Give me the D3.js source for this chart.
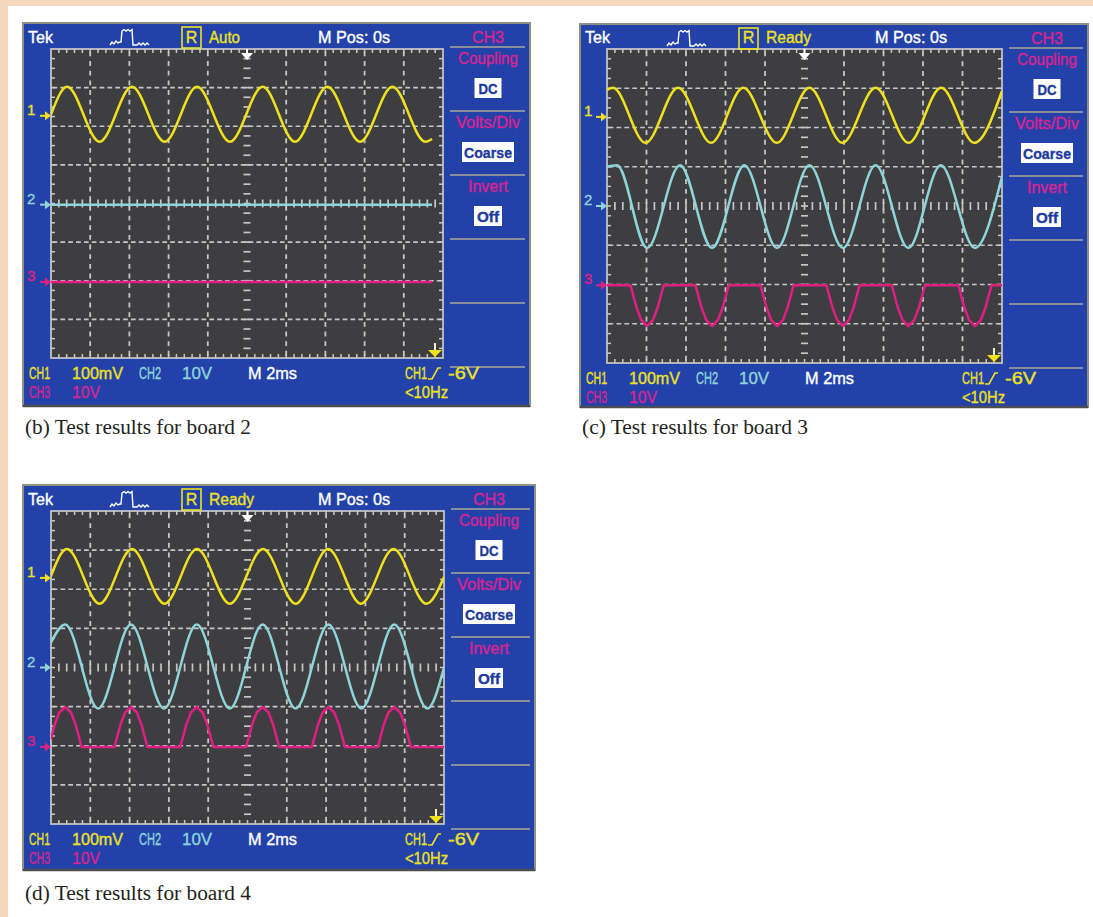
<!DOCTYPE html>
<html><head><meta charset="utf-8">
<script src="https://cdn.jsdelivr.net/npm/d3@7/dist/d3.min.js"></script>
<style>
body{margin:0;background:#fff;}
text.scr{font-family:"Liberation Sans",Arial,sans-serif;}
text.cap{font-family:"Liberation Serif","Times New Roman",serif;}
</style></head><body>
<svg id="fig" width="1093" height="917"></svg>
<script>
// ---------------- DATA ----------------
const captions = ["(b) Test results for board 2", "(c) Test results for board 3", "(d) Test results for board 4"];
const statusLabels = ["Auto", "Ready", "Ready"];
const menuTitle = "CH3";
const menuLabels = ["Coupling", "Volts/Div", "Invert"];
const menuValues = ["DC", "Coarse", "Off"];
const scaleLabels = ["CH1", "100mV", "CH2", "10V", "M 2ms", "CH3", "10V"];
const triggerLabels = ["CH1", "-6V", "<10Hz"];
const headerLabels = ["Tek", "M Pos: 0s"];
const channelNames = ["1", "2", "3"];

// channel ground markers, in divisions from screen centre [CH1, CH2, CH3]
const markersB = [2.27, -0.03, -2.03];
const markersC = [2.27, 0.0, -2.02];
const markersD = [2.29, 0.0, -2.03];

// traces: [time (ms), value (divisions relative to channel marker)]
const ch1B = [[0,0.03],[0.82,0.75],[2.48,-0.67],[4.13,0.75],[5.8,-0.67],[7.45,0.75],[9.13,-0.67],[10.8,0.75],[12.45,-0.67],[14.1,0.75],[15.77,-0.67],[17.42,0.75],[19.1,-0.67],[19.44,-0.6]];
const ch2B = [[0,0],[19.44,0]];
const ch3B = [[0,0],[19.44,0]];

const ch1C = [[0,0.69],[0.3,0.74],[1.95,-0.66],[3.6,0.74],[5.27,-0.66],[6.9,0.74],[8.6,-0.66],[10.25,0.74],[11.92,-0.66],[13.6,0.74],[15.27,-0.66],[16.92,0.74],[18.6,-0.66],[20,0.66]];
const ch2C = [[0,1.0],[0.51,1.04],[2.03,-1.07],[3.7,1.04],[5.32,-1.07],[6.95,1.04],[8.61,-1.07],[10.25,1.04],[11.95,-1.07],[13.6,1.04],[15.26,-1.07],[16.9,1.04],[18.63,-1.07],[20,0.75]];
const ch3C = [[0,0],[1.19,0],[1.49,-0.56],[1.73,-0.88],[2.03,-1.04],[2.33,-0.88],[2.57,-0.56],[2.87,0],
  [4.48,0],[4.78,-0.56],[5.02,-0.88],[5.32,-1.04],[5.62,-0.88],[5.86,-0.56],[6.16,0],
  [7.77,0],[8.07,-0.56],[8.31,-0.88],[8.61,-1.04],[8.91,-0.88],[9.15,-0.56],[9.45,0],
  [11.11,0],[11.41,-0.56],[11.65,-0.88],[11.95,-1.04],[12.25,-0.88],[12.49,-0.56],[12.79,0],
  [14.42,0],[14.72,-0.56],[14.96,-0.88],[15.26,-1.04],[15.56,-0.88],[15.8,-0.56],[16.1,0],
  [17.79,0],[18.09,-0.56],[18.33,-0.88],[18.63,-1.04],[18.93,-0.88],[19.17,-0.56],[19.47,0],[20,0]];

const ch1D = [[0,0.05],[0.81,0.74],[2.47,-0.66],[4.12,0.74],[5.78,-0.66],[7.43,0.74],[9.1,-0.66],[10.79,0.74],[12.45,-0.66],[14.1,0.74],[15.77,-0.66],[17.43,0.74],[19.1,-0.66],[20,0.02]];
const ch2D = [[0,0.64],[0.72,1.1],[2.4,-1.05],[4.07,1.1],[5.75,-1.05],[7.42,1.1],[9.1,-1.05],[10.77,1.1],[12.45,-1.05],[14.12,1.1],[15.8,-1.05],[17.47,1.1],[19.15,-1.05],[20,0.0]];
const ch3D = [[0,0.2],[0.18,0.56],[0.42,0.88],[0.72,1.02],[1.02,0.88],[1.26,0.56],[1.56,0],
  [3.23,0],[3.53,0.56],[3.77,0.88],[4.07,1.02],[4.37,0.88],[4.61,0.56],[4.91,0],
  [6.58,0],[6.88,0.56],[7.12,0.88],[7.42,1.02],[7.72,0.88],[7.96,0.56],[8.26,0],
  [9.93,0],[10.23,0.56],[10.47,0.88],[10.77,1.02],[11.07,0.88],[11.31,0.56],[11.61,0],
  [13.28,0],[13.58,0.56],[13.82,0.88],[14.12,1.02],[14.42,0.88],[14.66,0.56],[14.96,0],
  [16.63,0],[16.93,0.56],[17.17,0.88],[17.47,1.02],[17.77,0.88],[18.01,0.56],[18.31,0],[20,0]];

// ---------------- STYLE / LAYOUT ----------------
const W = 1093, H = 917;
const PEACH = "#f4d7bd", BLUE = "#2242aa", GRIDBG = "#3e3e40", GRIDC = "#c6c6c6";
const YEL = "#f0e11e", CYA = "#8fd5d9", MAG = "#e01f82", MAGT = "#da2391", WHITE = "#ffffff";
const chColors = [YEL, CYA, MAG];

const panels = [
  {fx:23, fy:23, fw:507, fh:383, gx0:51, gy0:49, gx1:443, gy1:358, cap:[25,434]},
  {fx:580, fy:24, fw:508, fh:383, gx0:607, gy0:49, gx1:1002, gy1:363, cap:[582,434]},
  {fx:23, fy:485, fw:512, fh:385, gx0:51, gy0:511, gx1:444, gy1:824, cap:[25,900]}
];
const panelData = [
  {series:[ch1B, ch2B, ch3B], markers:markersB, curves:[d3.curveMonotoneX, d3.curveLinear, d3.curveLinear]},
  {series:[ch1C, ch2C, ch3C], markers:markersC, curves:[d3.curveMonotoneX, d3.curveMonotoneX, d3.curveLinear]},
  {series:[ch1D, ch2D, ch3D], markers:markersD, curves:[d3.curveMonotoneX, d3.curveMonotoneX, d3.curveLinear]}
];

const svg = d3.select("#fig");
svg.append("rect").attr("width", W).attr("height", H).attr("fill", "#fff");
svg.append("rect").attr("x",0).attr("y",0).attr("width",W).attr("height",6).attr("fill",PEACH);
svg.append("rect").attr("x",0).attr("y",0).attr("width",8).attr("height",H).attr("fill",PEACH);
const defs = svg.append("defs");

function txt(g, s, x, y, color, len, opts = {}) {
  const t = g.append("text").attr("class", "scr").attr("x", x).attr("y", y).attr("fill", color)
    .attr("stroke", color).attr("stroke-width", 0.35)
    .attr("font-size", opts.size || 16).text(s);
  if (opts.anchor) t.attr("text-anchor", opts.anchor);
  if (opts.weight) t.attr("font-weight", opts.weight);
  if (len) t.attr("textLength", len).attr("lengthAdjust", "spacingAndGlyphs");
  return t;
}

panels.forEach((p, pi) => {
  const d = panelData[pi];
  const g = svg.append("g");
  const x = d3.scaleLinear().domain([0, 20]).range([p.gx0, p.gx1]);
  const y = d3.scaleLinear().domain([-4, 4]).range([p.gy1, p.gy0]);
  const hs = (x(2) - x(0)) / 5;   // horizontal minor step
  const vs = (y(0) - y(1)) / 4;   // vertical minor step

  // frame
  g.append("rect").attr("x", p.fx).attr("y", p.fy).attr("width", p.fw).attr("height", p.fh)
    .attr("fill", BLUE).attr("stroke", "#8e9186").attr("stroke-width", 2);
  g.append("line").attr("x1", p.fx).attr("x2", p.fx + p.fw).attr("y1", p.fy + p.fh).attr("y2", p.fy + p.fh)
    .attr("stroke", "#4b4d52").attr("stroke-width", 2.5);

  // graticule background
  g.append("rect").attr("x", x(0)).attr("y", y(4)).attr("width", x(20) - x(0)).attr("height", y(-4) - y(4))
    .attr("fill", GRIDBG);

  // dashed grid lines
  [-3, -2, -1, 1, 2, 3].forEach(v => {
    g.append("line").attr("x1", x(0)).attr("x2", x(20)).attr("y1", y(v)).attr("y2", y(v))
      .attr("stroke", GRIDC).attr("stroke-width", 1.7)
      .attr("stroke-dasharray", `${(hs*0.6).toFixed(2)},${(hs*0.4).toFixed(2)}`)
      .attr("stroke-dashoffset", -hs*0.2);
  });
  [2, 4, 6, 8, 12, 14, 16, 18].forEach(t => {
    g.append("line").attr("x1", x(t)).attr("x2", x(t)).attr("y1", y(4)).attr("y2", y(-4))
      .attr("stroke", GRIDC).attr("stroke-width", 1.8)
      .attr("stroke-dasharray", `${(vs*0.5).toFixed(2)},${(vs*0.5).toFixed(2)}`)
      .attr("stroke-dashoffset", -vs*0.25);
  });
  // centre line ticks
  d3.range(1, 32).forEach(k => {
    const yy = y(4) + k * vs;
    g.append("line").attr("x1", x(10) - 3.5).attr("x2", x(10) + 3.5).attr("y1", yy).attr("y2", yy)
      .attr("stroke", GRIDC).attr("stroke-width", 1.7);
  });
  d3.range(1, 50).forEach(k => {
    const xx = x(0) + k * hs;
    g.append("line").attr("x1", xx).attr("x2", xx).attr("y1", y(0) - 4).attr("y2", y(0) + 4)
      .attr("stroke", GRIDC).attr("stroke-width", 1.7);
  });
  // border & ticks
  g.append("rect").attr("x", x(0)).attr("y", y(4)).attr("width", x(20) - x(0)).attr("height", y(-4) - y(4))
    .attr("fill", "none").attr("stroke", "#c9c9c9").attr("stroke-width", 1.7);
  d3.range(1, 50).forEach(k => {
    const xx = x(0) + k * hs;
    g.append("line").attr("x1", xx).attr("x2", xx).attr("y1", y(4)).attr("y2", y(4) + 4).attr("stroke", "#c9c9c9").attr("stroke-width", 1.5);
    g.append("line").attr("x1", xx).attr("x2", xx).attr("y1", y(-4)).attr("y2", y(-4) - 4).attr("stroke", "#c9c9c9").attr("stroke-width", 1.5);
  });
  d3.range(1, 32).forEach(k => {
    const yy = y(4) + k * vs;
    g.append("line").attr("x1", x(0)).attr("x2", x(0) + 4).attr("y1", yy).attr("y2", yy).attr("stroke", "#c9c9c9").attr("stroke-width", 1.5);
    g.append("line").attr("x1", x(20)).attr("x2", x(20) - 4).attr("y1", yy).attr("y2", yy).attr("stroke", "#c9c9c9").attr("stroke-width", 1.5);
  });

  // traces
  const cid = "clip" + pi;
  defs.append("clipPath").attr("id", cid).append("rect")
    .attr("x", x(0)).attr("y", y(4)).attr("width", x(20) - x(0)).attr("height", y(-4) - y(4));
  const tg = g.append("g").attr("clip-path", `url(#${cid})`);
  [2, 1, 0].forEach(ci => {
    const off = d.markers[ci];
    const line = d3.line().x(v => x(v[0])).y(v => y(off + v[1])).curve(d.curves[ci]);
    tg.append("path").attr("d", line(d.series[ci])).attr("fill", "none")
      .attr("stroke", chColors[ci]).attr("stroke-width", 2.5).attr("stroke-linejoin", "round");
  });

  // channel markers
  d.markers.forEach((m, ci) => {
    const yy = y(m);
    g.append("path").attr("d", `M${x(0)-11},${yy}H${x(0)-4}`).attr("stroke", chColors[ci]).attr("stroke-width", 2);
    g.append("path").attr("d", `M${x(0)-6},${yy-4.5}L${x(0)},${yy}L${x(0)-6},${yy+4.5}Z`).attr("fill", chColors[ci]);
    txt(g, channelNames[ci], p.fx + 4, yy - 1, chColors[ci], null, {size: 15});
  });

  // trigger position marker (top) and trigger level marker (bottom-right)
  const cx = x(10);
  g.append("path").attr("d", `M${cx-6},${y(4)+4}L${cx+6},${y(4)+4}L${cx},${y(4)+11}Z`).attr("fill", WHITE);
  g.append("line").attr("x1", cx).attr("x2", cx).attr("y1", y(4)).attr("y2", y(4) + 5).attr("stroke", WHITE).attr("stroke-width", 2);
  const tx = x(20) - 8;
  g.append("line").attr("x1", tx).attr("x2", tx).attr("y1", y(-4) - 15).attr("y2", y(-4) - 6).attr("stroke", "#f3f0c8").attr("stroke-width", 2);
  g.append("path").attr("d", `M${tx-7},${y(-4)-8}L${tx+7},${y(-4)-8}L${tx},${y(-4)-1}Z`).attr("fill", YEL);

  // header
  const hy = y(4) - 12 + 6;
  txt(g, headerLabels[0], p.fx + 5, hy, WHITE, 25, {size: 16});
  const ix = p.fx + 87, iy = p.fy + 4;
  g.append("path").attr("fill", "none").attr("stroke", WHITE).attr("stroke-width", 1.4)
    .attr("d", `M${ix},${iy+18} l2,-3 l2,2 l2,-3 l2,2 l2,-1 l1,0 L${ix+12},${iy+4} l2,-1.5 l2,1.5 l2,-1.5 l2,1.5 l2,-1.5 L${ix+23},${iy+18} L${ix+27},${iy+18} l2,-2 l2,2 l2,-2 l2,2 l2,-2 l2,2`);
  g.append("rect").attr("x", p.fx + 159).attr("y", p.fy + 4).attr("width", 19).attr("height", 21)
    .attr("fill", "none").attr("stroke", YEL).attr("stroke-width", 1.6);
  txt(g, "R", p.fx + 168.5, hy, YEL, null, {anchor: "middle", size: 16});
  txt(g, statusLabels[pi], p.fx + 186, hy, YEL, statusLabels[pi] === "Auto" ? 31 : 45);
  txt(g, headerLabels[1], p.fx + 295, hy, WHITE, 72);

  // side menu
  const sx = x(20) + 45;
  const sepY = [24, 88, 152, 216, 280, 344];
  sepY.forEach(s => g.append("line").attr("x1", x(20) + 7).attr("x2", p.fx + p.fw - 5)
    .attr("y1", p.fy + s).attr("y2", p.fy + s).attr("stroke", "#8a8c98").attr("stroke-width", 2));
  txt(g, menuTitle, sx, p.fy + 14 + 6, MAGT, 32, {anchor: "middle"});
  const lblLen = [60, 64, 40], boxW = [27, 52, 28], valLen = [19, 48, 22];
  menuLabels.forEach((lb, k) => {
    const base = p.fy + 64 * k;
    txt(g, lb, sx, base + 35 + 6, MAGT, lblLen[k], {anchor: "middle", size: 16.5});
    g.append("rect").attr("x", sx - boxW[k] / 2).attr("y", base + 55).attr("width", boxW[k]).attr("height", 20)
      .attr("fill", WHITE);
    txt(g, menuValues[k], sx, base + 65 + 5.5, "#1d3a9e", valLen[k], {anchor: "middle", weight: "bold", size: 15});
  });

  // bottom readouts
  const r1 = y(-4) + 15 + 6, r2 = y(-4) + 34 + 6;
  txt(g, scaleLabels[0], p.fx + 6, r1, YEL, 21);
  txt(g, scaleLabels[1], p.fx + 49, r1, YEL, 51);
  txt(g, scaleLabels[2], p.fx + 116, r1, CYA, 22);
  txt(g, scaleLabels[3], p.fx + 159, r1, CYA, 30);
  txt(g, scaleLabels[4], p.fx + 225, r1, WHITE, 49);
  txt(g, scaleLabels[5], p.fx + 6, r2, MAGT, 21);
  txt(g, scaleLabels[6], p.fx + 49, r2, MAGT, 28);
  txt(g, triggerLabels[0], p.fx + 382, r1, YEL, 22);
  g.append("path").attr("fill", "none").attr("stroke", YEL).attr("stroke-width", 1.6)
    .attr("d", `M${p.fx+405},${r1} h4 l6,-11 h3`);
  txt(g, triggerLabels[1], p.fx + 425, r1, YEL, 31);
  txt(g, triggerLabels[2], p.fx + 382, r2, YEL, 43);

  // caption
  svg.append("text").attr("class", "cap").attr("x", p.cap[0]).attr("y", p.cap[1]).attr("fill", "#231f20")
    .attr("font-size", 20).attr("textLength", 226).attr("lengthAdjust", "spacingAndGlyphs")
    .text(captions[pi]);
});
</script>
</body></html>
